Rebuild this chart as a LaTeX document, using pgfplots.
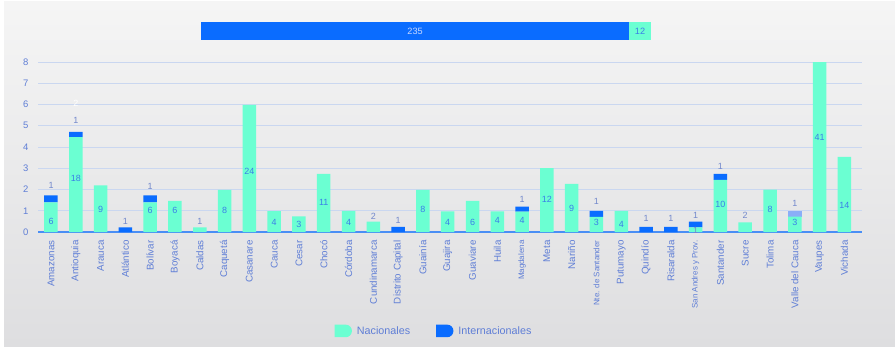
\documentclass[border=0pt]{standalone}
\usepackage{pgfplots}
\usepackage{pgfplotstable}
\pgfplotsset{compat=1.18}
\usepackage{fontspec}
\setmainfont{Liberation Sans}
\definecolor{aq}{HTML}{6BFFD2}
\definecolor{bl}{HTML}{0A6CFF}
\definecolor{hl}{HTML}{8AAEF8}
\definecolor{tickc}{HTML}{5F7ED6}
\definecolor{inlab}{HTML}{3A7FE8}
\definecolor{outlab}{HTML}{7288CC}
\definecolor{gridc}{HTML}{CAD7F0}
\definecolor{axc}{HTML}{4A8EF5}
\definecolor{bgtop}{HTML}{F5F5F5}
\definecolor{bgbot}{HTML}{DEDEE0}
\definecolor{toplab}{HTML}{C8D8FF}

\pgfplotstableread{
x n i h
0 1.39 0.33 0
1 4.46 0.25 0
2 2.20 0 0
3 0 0.22 0
4 1.39 0.33 0
5 1.46 0 0
6 0.22 0 0
7 1.98 0 0
8 5.98 0 0
9 0.98 0 0
10 0.74 0 0
11 2.73 0 0
12 0.99 0 0
13 0.49 0 0
14 0 0.24 0
15 1.98 0 0
16 0.97 0 0
17 1.47 0 0
18 0.97 0 0
19 0.96 0.24 0
20 3.01 0 0
21 2.27 0 0
22 0.71 0.28 0
23 0.99 0 0
24 0 0.24 0
25 0 0.24 0
26 0.22 0.27 0
27 2.45 0.28 0
28 0.45 0 0
29 1.99 0 0
30 0.72 0 0.27
31 8.00 0 0
32 3.53 0 0
}\bars

\pgfplotstableread{
x y l
0 0.52 6
1 2.52 18
2 1.04 9
4 1.00 6
5 1.00 6
7 1.00 8
8 2.87 24
9 0.43 4
10 0.38 3
11 1.40 11
12 0.47 4
15 1.04 8
16 0.47 4
17 0.47 6
18 0.55 4
19 0.55 4
20 1.55 12
21 1.13 9
22 0.44 3
23 0.38 4
27 1.30 10
29 1.04 8
30 0.45 3
31 4.44 41
32 1.25 14
}\inlabels

\pgfplotstableread{
x y l
0 2.19 1
1 5.24 1
3 0.49 1
4 2.13 1
6 0.50 1
13 0.75 2
14 0.53 1
19 1.54 1
22 1.43 1
24 0.64 1
25 0.64 1
26 0.80 1
26 0.06 1
27 3.09 1
28 0.80 2
30 1.35 1
}\outlabels

\pgfplotstableread{
x y l
1 6.03 2
}\whitelabels

\newcommand{\smallt}[1]{{\fontsize{8}{9}\selectfont #1}}

\begin{document}
\begin{tikzpicture}[x=1bp,y=1bp]
\fill[white] (0,0) rectangle (895,348);
\shade[top color=bgtop, bottom color=bgbot] (4,2) rectangle (895,346);
\useasboundingbox (0,0) rectangle (895,348);

% top summary bar
\begin{axis}[
  at={(201bp,308bp)}, anchor=south west,
  width=450bp, height=18bp, scale only axis,
  xmin=0, xmax=247, ymin=-0.5, ymax=0.5,
  hide axis, clip=false,
  xbar, bar width=18bp,
]
\addplot[fill=aq, draw=none, bar shift=0pt] coordinates {(247,0)};
\addplot[fill=bl, draw=none, bar shift=0pt] coordinates {(235,0)};
\addplot[draw=none, fill=none, bar shift=0pt,
  nodes near coords, point meta=explicit symbolic,
  every node near coord/.append style={anchor=center, font=\fontsize{9.2}{11}\selectfont, text=toplab}]
  coordinates {(117.5,0) [235]};
\addplot[draw=none, fill=none, bar shift=0pt,
  nodes near coords, point meta=explicit symbolic,
  every node near coord/.append style={anchor=center, font=\fontsize{9.2}{11}\selectfont, text=inlab}]
  coordinates {(241,0) [12]};
\end{axis}

% main chart
\begin{axis}[
  at={(38bp,116bp)}, anchor=south west,
  width=824bp, height=170bp, scale only axis,
  xmin=-0.524, xmax=32.71, ymin=0, ymax=8,
  ybar stacked, bar width=13.5bp,
  axis x line*=bottom, axis y line*=left,
  x axis line style={draw=axc, line width=1.3bp},
  y axis line style={draw=none},
  ymajorgrids, grid style={draw=gridc, line width=0.9bp},
  major tick length=0pt, tick style={draw=none},
  ytick={0,1,...,8},
  xtick={0,1,...,32},
  xticklabels={Amazonas,Antioquia,Arauca,Atlántico,Bolívar,Boyacá,Caldas,Caquetá,Casanare,Cauca,Cesar,Chocó,Córdoba,Cundinamarca,Distrito Capital,Guainía,Guajira,Guaviare,Huila,\smallt{Magdalena},Meta,Nariño,\smallt{Nte. de Santander},Putumayo,Quindío,Risaralda,\smallt{San Andres y Prov.},Santander,Sucre,Tolima,Valle del Cauca,Vaupes,Vichada},
  xticklabel style={rotate=90, anchor=east, font=\fontsize{9.8}{11}\selectfont, text=tickc},
  xticklabel shift=5bp,
  yticklabel style={font=\fontsize{9.5}{11}\selectfont, text=tickc},
  yticklabel shift=6bp,
  /pgf/number format/assume math mode=true,
  legend style={draw=none, fill=none, at={(0.4806,-0.582)}, anchor=center,
    legend columns=2, font=\fontsize{10.8}{12}\selectfont, text=tickc,
    /tikz/every odd column/.append style={column sep=3bp},
    /tikz/every even column/.append style={column sep=24bp}},
]
\addplot[fill=aq, draw=none,
  legend image code/.code={\fill[aq] (0bp,-6.3bp) -- (11bp,-6.3bp) arc[start angle=-90,end angle=90,radius=6.3bp] -- (0bp,6.3bp) -- cycle;}]
  table[x=x, y=n] {\bars};
\addlegendentry{Nacionales}
\addplot[fill=bl, draw=none,
  legend image code/.code={\fill[bl] (0bp,-6.3bp) -- (11bp,-6.3bp) arc[start angle=-90,end angle=90,radius=6.3bp] -- (0bp,6.3bp) -- cycle;}]
  table[x=x, y=i] {\bars};
\addlegendentry{Internacionales}
\addplot[fill=hl, draw=none, forget plot] table[x=x, y=h] {\bars};
\end{axis}

% bar labels
\begin{axis}[
  at={(38bp,116bp)}, anchor=south west,
  width=824bp, height=170bp, scale only axis,
  xmin=-0.524, xmax=32.71, ymin=0, ymax=8,
  hide axis, clip=false,
]
\addplot[draw=none, mark=none, nodes near coords, point meta=explicit symbolic,
  every node near coord/.append style={anchor=center, font=\fontsize{9}{11}\selectfont, text=inlab}]
  table[x=x, y=y, meta=l] {\inlabels};
\addplot[draw=none, mark=none, nodes near coords, point meta=explicit symbolic,
  every node near coord/.append style={anchor=center, font=\fontsize{9}{11}\selectfont, text=outlab}]
  table[x=x, y=y, meta=l] {\outlabels};
\addplot[draw=none, mark=none, nodes near coords, point meta=explicit symbolic,
  every node near coord/.append style={anchor=center, font=\fontsize{9}{11}\selectfont, text=white}]
  table[x=x, y=y, meta=l] {\whitelabels};
\end{axis}
\end{tikzpicture}
\end{document}
